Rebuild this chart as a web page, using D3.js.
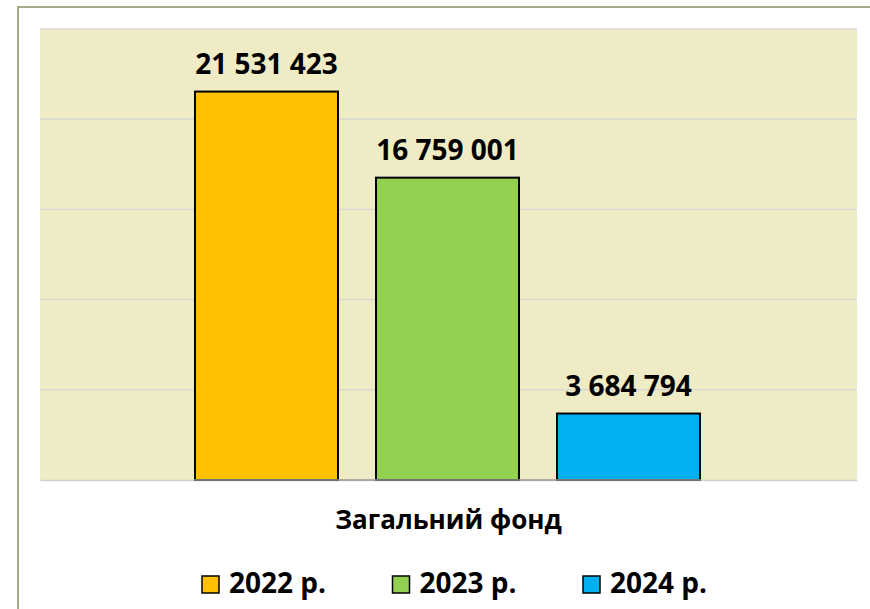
<!DOCTYPE html>
<html>
<head>
<meta charset="utf-8">
<script src="https://cdn.jsdelivr.net/npm/d3@7"></script>
<style>
  html, body { margin: 0; padding: 0; background: #ffffff; }
  svg { display: block; font-family: "Open Sans", "Liberation Sans", sans-serif; }
</style>
</head>
<body>
<svg id="chart" width="870" height="609"></svg>
<script>
// Data
const category = "Загальний фонд";
const seriesNames = ["2022 р.", "2023 р.", "2024 р."];
const seriesValues = [21531423, 16759001, 3684794];
const seriesColors = ["#FFC000", "#92D050", "#00B0F0"];
const yTicks = [0, 5000000, 10000000, 15000000, 20000000, 25000000];

const svg = d3.select("#chart");

// Plot area
const plot = { left: 40, right: 857, top: 29, bottom: 480 };

// Outer chart frame (continues past the right and bottom edge)
svg.append("rect")
  .attr("x", 18).attr("y", 7)
  .attr("width", 900).attr("height", 700)
  .attr("fill", "#ffffff")
  .attr("stroke", "#a8a88a")
  .attr("stroke-width", 2);

svg.append("rect")
  .attr("x", plot.left).attr("y", plot.top)
  .attr("width", plot.right - plot.left)
  .attr("height", plot.bottom - plot.top)
  .attr("fill", "#efebc4");

const y = d3.scaleLinear()
  .domain([0, 25000000])
  .range([plot.bottom, plot.top]);

const x = d3.scaleBand()
  .domain(seriesNames)
  .range([176, 719])
  .paddingInner(0.21)
  .paddingOuter(0.105);

// Horizontal gridlines
svg.append("g")
  .selectAll("line")
  .data(yTicks.filter(t => t > 0))
  .join("line")
  .attr("x1", plot.left).attr("x2", plot.right)
  .attr("y1", d => y(d)).attr("y2", d => y(d))
  .attr("stroke", "#d9d9d3")
  .attr("stroke-width", 1.5);

// Category axis line
const xAxis = d3.axisBottom(d3.scaleBand().domain([category]).range([plot.left, plot.right]))
  .tickSize(0).tickFormat("");
svg.append("g")
  .attr("transform", `translate(0,${plot.bottom})`)
  .call(xAxis)
  .call(g => g.select(".domain").attr("stroke", "#d0d0d0").attr("stroke-width", 1.5));

// Bars
const rows = seriesNames.map((name, i) => ({ name, value: seriesValues[i], color: seriesColors[i] }));

svg.append("g")
  .selectAll("rect")
  .data(rows)
  .join("rect")
  .attr("x", d => x(d.name))
  .attr("y", d => y(d.value))
  .attr("width", x.bandwidth())
  .attr("height", d => y(0) - y(d.value))
  .attr("fill", d => d.color)
  .attr("stroke", "#000000")
  .attr("stroke-width", 2);

// Baseline under the bars
svg.append("line")
  .attr("x1", x(seriesNames[0]) - 1).attr("x2", x(seriesNames[2]) + x.bandwidth() + 1)
  .attr("y1", plot.bottom).attr("y2", plot.bottom)
  .attr("stroke", "#9a9a9a").attr("stroke-width", 1.5);

// Value labels
const fmt = d3.formatLocale({ decimal: ",", thousands: " ", grouping: [3], currency: ["", ""] }).format(",d");
svg.append("g")
  .selectAll("text")
  .data(rows)
  .join("text")
  .attr("x", d => x(d.name) + x.bandwidth() / 2)
  .attr("y", d => y(d.value) - 18)
  .attr("text-anchor", "middle")
  .attr("font-size", 28)
  .attr("font-weight", 700)
  .attr("fill", "#000000")
  .text(d => fmt(d.value));

// Category title
svg.append("text")
  .attr("x", (plot.left + plot.right) / 2)
  .attr("y", 529)
  .attr("text-anchor", "middle")
  .attr("font-size", 26)
  .attr("font-weight", 700)
  .attr("fill", "#000000")
  .text(category);

// Legend
const legend = svg.append("g")
  .selectAll("g")
  .data(rows)
  .join("g")
  .attr("transform", (d, i) => `translate(${202 + i * 190.5},576)`);

legend.append("rect")
  .attr("width", 17).attr("height", 17)
  .attr("fill", d => d.color)
  .attr("stroke", "#000000")
  .attr("stroke-width", 1.5);

legend.append("text")
  .attr("x", 27).attr("y", 17)
  .attr("font-size", 28)
  .attr("font-weight", 700)
  .attr("fill", "#000000")
  .text(d => d.name);
</script>
</body>
</html>
